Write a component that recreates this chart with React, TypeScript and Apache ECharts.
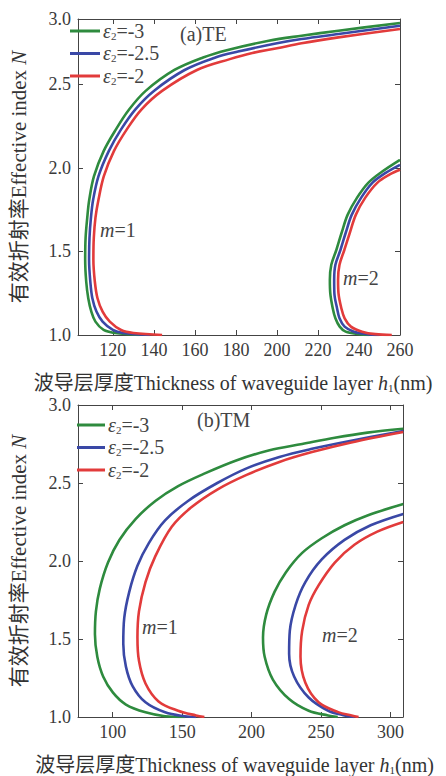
import React, { useEffect, useRef } from "react";
import * as echarts from "echarts";

// ---------- data (thickness h1 in nm, effective index N) ----------
const legendNames = ["e3", "e25", "e2"];
const legendLabels: Record<string, string> = { e3: "-3", e25: "-2.5", e2: "-2" };
const colors = ["#2e8b3e", "#3a48a6", "#e23b3b"];

// (a) TE, m = 1
const teM1Eps3: [number, number][] = [[133,1.0],[121,1.012],[115.5,1.03],[111.5,1.08],[109.5,1.14],[108,1.22],[107,1.32],[106.5,1.45],[106.7,1.58],[107.5,1.7],[108.5,1.81],[110.8,1.95],[115.5,2.1],[121.5,2.23],[128,2.35],[136,2.46],[150,2.585],[164,2.66],[176,2.705],[196,2.76],[212,2.79],[230,2.82],[260,2.866]];
const teM1Eps25: [number, number][] = [[138,1.0],[125,1.012],[120,1.03],[115,1.08],[112,1.14],[110,1.22],[109,1.32],[108.4,1.45],[108.6,1.58],[109.3,1.7],[110.4,1.81],[113,1.95],[118,2.1],[124,2.23],[131,2.35],[140,2.46],[155,2.585],[170,2.66],[181,2.695],[200,2.745],[212,2.77],[230,2.80],[260,2.85]];
const teM1Eps2: [number, number][] = [[144,1.0],[130,1.012],[124,1.03],[118.5,1.08],[115,1.14],[112.5,1.22],[111.2,1.32],[110.5,1.45],[110.7,1.58],[111.5,1.7],[113,1.81],[115.6,1.95],[120.5,2.1],[126.8,2.23],[134,2.35],[144,2.46],[161,2.585],[177,2.65],[188,2.687],[200,2.715],[212,2.745],[230,2.78],[260,2.83]];
// (a) TE, m = 2
const teM2Eps3: [number, number][] = [[245,1.0],[240,1.005],[233.5,1.02],[230.6,1.05],[228.5,1.1],[227.2,1.16],[226,1.25],[225.8,1.33],[226.5,1.42],[229,1.51],[231.5,1.61],[234.5,1.72],[239,1.82],[244.5,1.91],[251,1.975],[260,2.048]];
const teM2Eps25: [number, number][] = [[250,1.0],[244,1.005],[237.5,1.02],[233,1.05],[230.5,1.1],[229.3,1.16],[228,1.25],[227.9,1.33],[228.5,1.42],[231,1.51],[233.5,1.61],[236.5,1.72],[241,1.82],[246.5,1.91],[253,1.97],[260,2.018]];
const teM2Eps2: [number, number][] = [[256,1.0],[248,1.005],[241.5,1.02],[236.1,1.05],[233,1.1],[231.4,1.16],[230,1.25],[229.8,1.33],[230.5,1.42],[232.9,1.51],[235.5,1.61],[238.5,1.72],[243,1.82],[248.9,1.91],[255,1.96],[260,1.988]];
// (b) TM, m = 1
const tmM1Eps3: [number, number][] = [[152,1.0],[137.7,1.005],[123.6,1.03],[109.5,1.08],[100.2,1.156],[93.1,1.26],[88.9,1.386],[87.2,1.53],[87.9,1.677],[90.7,1.823],[96.6,1.99],[104.8,2.135],[116.6,2.27],[130.7,2.385],[147.1,2.48],[165.9,2.56],[189.4,2.646],[212.9,2.71],[236.4,2.75],[259.9,2.79],[283.4,2.823],[309.2,2.848]];
const tmM1Eps25: [number, number][] = [[160,1.0],[151.8,1.005],[137.7,1.03],[123.6,1.094],[114.3,1.198],[109.5,1.323],[107.6,1.469],[108.3,1.635],[111.9,1.802],[117.8,1.969],[126,2.115],[137.7,2.26],[154.2,2.385],[175.3,2.5],[196.4,2.594],[220,2.667],[243.5,2.719],[271.7,2.771],[309.2,2.833]];
const tmM1Eps2: [number, number][] = [[166,1.0],[160,1.01],[147.1,1.04],[133,1.1],[123.6,1.215],[118.9,1.36],[117.8,1.51],[118.9,1.677],[123.6,1.865],[130.7,2.031],[142.5,2.219],[156.6,2.344],[175.3,2.458],[196.4,2.552],[220,2.635],[243.5,2.698],[271.7,2.76],[309.2,2.827]];
// (b) TM, m = 2
const tmM2Eps3: [number, number][] = [[262,1.0],[255,1.01],[241.1,1.04],[227,1.115],[215.3,1.24],[209.4,1.386],[208.2,1.51],[210.5,1.656],[216.5,1.802],[224.6,1.927],[236.4,2.052],[250.5,2.146],[266.9,2.229],[283.4,2.292],[309.2,2.365]];
const tmM2Eps25: [number, number][] = [[274,1.0],[266,1.012],[255.2,1.04],[241.1,1.125],[230.6,1.26],[227,1.406],[227.5,1.552],[231.7,1.719],[238.7,1.865],[250.5,2.01],[266.9,2.135],[285.7,2.229],[309.2,2.302]];
const tmM2Eps2: [number, number][] = [[277,1.0],[272,1.01],[262.3,1.031],[248.2,1.094],[238.7,1.219],[235.2,1.386],[236.4,1.552],[241.1,1.719],[248.2,1.844],[259.9,1.99],[274,2.104],[290.5,2.188],[309.2,2.25]];

// axis ranges / ticks
const teXRange = [103, 260];
const teXTicks = [120, 140, 160, 180, 200, 220, 240, 260];
const tmXRange = [75, 309];
const tmXTicks = [100, 150, 200, 250, 300];
const teYRange = [1.0, 2.89];
const teYTicks = [1.0, 1.5, 2.0, 2.5, 2.89];
const teYTickLabels = ["1.0", "1.5", "2.0", "2.5", "3.0"];
const tmYRange = [1.0, 3.0];
const tmYTicks = [1.0, 1.5, 2.0, 2.5, 3.0];
const tmYTickLabels = ["1.0", "1.5", "2.0", "2.5", "3.0"];

const SERIF = "'Liberation Serif', 'Times New Roman', 'Noto Sans CJK SC', serif";
const TITLE_FONT = "'Liberation Serif', 'Noto Sans CJK SC', serif";
const TEXT_COLOR = "#333";

export default function App() {
  const ref = useRef<HTMLDivElement>(null);

  useEffect(() => {
    if (!ref.current) return;
    const chart = echarts.init(ref.current, undefined, { renderer: "svg" });

    const grids = [
      { left: 71, top: 19, width: 329, height: 316 },
      { left: 71, top: 405, width: 332, height: 320 },
    ];

    const axisLine = { show: true, lineStyle: { color: "#444", width: 1 } };
    const labelStyle = { fontFamily: SERIF, fontSize: 18, color: "#3a3a3a" };

    const xTitle = "波导层厚度Thickness of waveguide layer {i|h}{s|1}(nm)";
    const yTitle = "有效折射率Effective index {i|N}";
    const mkNameStyle = (size: number, pad: number[]) => ({
      fontFamily: TITLE_FONT,
      fontSize: size,
      color: TEXT_COLOR,
      padding: pad,
      rich: {
        i: { fontFamily: SERIF, fontSize: size, fontStyle: "italic", color: TEXT_COLOR },
        s: { fontFamily: SERIF, fontSize: 11, color: TEXT_COLOR, verticalAlign: "bottom", padding: [9, 0, 0, 0] },
      },
    });

    const mkX = (gi: number, range: number[], ticks: number[], main: boolean) => ({
      type: "value",
      gridIndex: gi,
      position: main ? "bottom" : "top",
      min: range[0],
      max: range[1],
      axisLine,
      axisTick: { show: true, inside: true, length: 5, customValues: ticks, lineStyle: { color: "#444" } },
      splitLine: { show: false },
      axisLabel: main
        ? { ...labelStyle, margin: 6, customValues: ticks, formatter: (v: number) => String(Math.round(v)) }
        : { show: false },
      name: main ? xTitle : "",
      nameLocation: "middle",
      nameGap: 38,
      nameTextStyle: mkNameStyle(20, [0, 12, 0, 0]),
    });

    const mkY = (gi: number, range: number[], ticks: number[], labels: string[], main: boolean) => ({
      type: "value",
      gridIndex: gi,
      position: main ? "left" : "right",
      min: range[0],
      max: range[1],
      axisLine,
      axisTick: { show: true, inside: true, length: 5, customValues: ticks, lineStyle: { color: "#444" } },
      splitLine: { show: false },
      axisLabel: main
        ? {
            ...labelStyle,
            margin: 7,
            customValues: ticks,
            formatter: (v: number) => {
              let best = 0;
              ticks.forEach((t, i) => {
                if (Math.abs(t - v) < Math.abs(ticks[best] - v)) best = i;
              });
              return labels[best];
            },
          }
        : { show: false },
      name: main ? yTitle : "",
      nameLocation: "middle",
      nameRotate: 90,
      nameGap: 49,
      nameTextStyle: mkNameStyle(21, [0, 0, 0, 0]),
    });

    const xAxis = [
      mkX(0, teXRange, teXTicks, true),
      mkX(0, teXRange, teXTicks, false),
      mkX(1, tmXRange, tmXTicks, true),
      mkX(1, tmXRange, tmXTicks, false),
    ];
    const yAxis = [
      mkY(0, teYRange, teYTicks, teYTickLabels, true),
      mkY(0, teYRange, teYTicks, teYTickLabels, false),
      mkY(1, tmYRange, tmYTicks, tmYTickLabels, true),
      mkY(1, tmYRange, tmYTicks, tmYTickLabels, false),
    ];

    const curves: { data: [number, number][]; eps: number; panel: number }[] = [
      { data: teM1Eps3, eps: 0, panel: 0 },
      { data: teM1Eps25, eps: 1, panel: 0 },
      { data: teM1Eps2, eps: 2, panel: 0 },
      { data: teM2Eps3, eps: 0, panel: 0 },
      { data: teM2Eps25, eps: 1, panel: 0 },
      { data: teM2Eps2, eps: 2, panel: 0 },
      { data: tmM1Eps3, eps: 0, panel: 1 },
      { data: tmM1Eps25, eps: 1, panel: 1 },
      { data: tmM1Eps2, eps: 2, panel: 1 },
      { data: tmM2Eps3, eps: 0, panel: 1 },
      { data: tmM2Eps25, eps: 1, panel: 1 },
      { data: tmM2Eps2, eps: 2, panel: 1 },
    ];

    const series = curves.map((c) => ({
      type: "line",
      name: legendNames[c.eps],
      xAxisIndex: c.panel === 0 ? 0 : 2,
      yAxisIndex: c.panel === 0 ? 0 : 2,
      data: c.data,
      symbol: "none",
      showSymbol: false,
      smooth: 0.35,
      clip: true,
      lineStyle: { color: colors[c.eps], width: 2.6 },
      itemStyle: { color: colors[c.eps] },
    }));

    const legendRich = {
      e: { fontFamily: SERIF, fontStyle: "italic", fontSize: 20, color: "#444" },
      s: { fontFamily: SERIF, fontSize: 11, color: "#444", padding: [10, 0, 0, 0] },
      n: { fontFamily: SERIF, fontSize: 20, color: "#444" },
    };
    const legendFormatter = (name: string) => `{e|ε}{s|2}{n|=${legendLabels[name]}}`;
    const mkLegend = (left: number, top: number, w: number) => ({
      data: legendNames.map((n) => ({ name: n, icon: "rect" })),
      orient: "vertical",
      left,
      top,
      itemWidth: w,
      itemHeight: 3,
      itemGap: 2,
      padding: 0,
      selectedMode: false,
      formatter: legendFormatter,
      textStyle: { rich: legendRich, padding: [0, 0, 0, -2] },
    });

    const textEl = (x: number, y: number, text: string) => ({
      type: "text",
      x,
      y,
      style: {
        text,
        font: `20px ${SERIF}`,
        fill: "#444",
        textVerticalAlign: "middle",
        rich: {
          i: { fontFamily: SERIF, fontSize: 20, fontStyle: "italic", fill: "#444" },
          r: { fontFamily: SERIF, fontSize: 20, fill: "#444" },
        },
      },
    });

    chart.setOption({
      animation: false,
      backgroundColor: "#fff",
      grid: grids,
      xAxis,
      yAxis,
      legend: [mkLegend(70, 21, 30), mkLegend(77, 415, 28)],
      series,
      graphic: [
        textEl(180, 34, "(a)TE"),
        textEl(197, 420, "(b)TM"),
        textEl(100, 230, "{i|m}{r|=1}"),
        textEl(343, 278, "{i|m}{r|=2}"),
        textEl(142, 627, "{i|m}{r|=1}"),
        textEl(322, 635, "{i|m}{r|=2}"),
      ],
    });

    return () => chart.dispose();
  }, []);

  return (
    <div
      ref={ref}
      style={{ position: "absolute", left: 0, top: 0, width: 446, height: 776, background: "#fff" }}
    />
  );
}
